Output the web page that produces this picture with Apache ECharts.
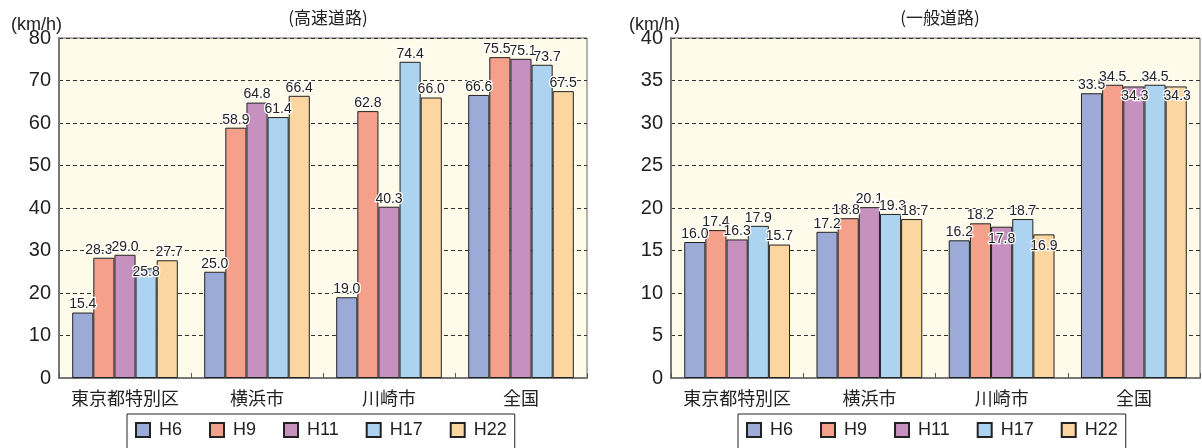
<!DOCTYPE html>
<html>
<head>
<meta charset="utf-8">
<script src="https://cdn.jsdelivr.net/npm/echarts@6/dist/echarts.min.js"></script>
<style>
html,body{margin:0;padding:0;background:#fff;}
#c{width:1202px;height:448px;}
</style>
</head>
<body>
<div id="c"></div>
<script>
// ---- data ----
const categories = ['東京都特別区', '横浜市', '川崎市', '全国'];
const seriesNames = ['H6', 'H9', 'H11', 'H17', 'H22'];
// 高速道路
const hwH6  = [15.4, 25.0, 19.0, 66.6];
const hwH9  = [28.3, 58.9, 62.8, 75.5];
const hwH11 = [29.0, 64.8, 40.3, 75.1];
const hwH17 = [25.8, 61.4, 74.4, 73.7];
const hwH22 = [27.7, 66.4, 66.0, 67.5];
// 一般道路
const gnH6  = [16.0, 17.2, 16.2, 33.5];
const gnH9  = [17.4, 18.8, 18.2, 34.5];
const gnH11 = [16.3, 20.1, 17.8, 34.3];
const gnH17 = [17.9, 19.3, 18.7, 34.5];
const gnH22 = [15.7, 18.7, 16.9, 34.3];
const hwTicks = [0, 80, 10];
const gnTicks = [0, 40, 5];

// ---- style ----
const colors = ['#9baad7', '#f4a08b', '#c690bf', '#acd4f0', '#fbd6a0'];
// label offsets: [chart, series, index, dx, dy]
const labelOffsets = [
  [0, 3, 0, 0, 12], [0, 1, 0, -5, 0], [0, 4, 0, 2, 0],
  [0, 1, 3, -3, 0], [0, 2, 3, 2, 0], [0, 3, 3, 5, 0],
  [1, 1, 1, -2, 0], [1, 3, 1, 2, 0], [1, 4, 1, 3, 0],
  [1, 2, 2, 0, 20], [1, 4, 2, 0, 20], [1, 2, 3, 1, 18], [1, 4, 3, 1, 18]
];
const numFont = '"Liberation Sans", Arial, sans-serif';
const jpFont = '"Noto Sans CJK JP", sans-serif';

const hw = [hwH6, hwH9, hwH11, hwH17, hwH22];
const gn = [gnH6, gnH9, gnH11, gnH17, gnH22];

function makeSeries(chartIdx, arrs) {
  return arrs.map((vals, si) => ({
    name: seriesNames[si],
    type: 'bar',
    xAxisIndex: chartIdx,
    yAxisIndex: chartIdx,
    barGap: '0%',
    barCategoryGap: '20%',
    itemStyle: { color: colors[si], borderColor: '#222', borderWidth: 1 },
    label: {
      show: true, position: 'top', distance: 1,
      formatter: p => p.value.toFixed(1),
      fontFamily: numFont, fontSize: 14, color: '#222',
      textBorderColor: '#fff', textBorderWidth: 2.5
    },
    data: vals.map((v, i) => {
      const hit = labelOffsets.find(a => a[0] === chartIdx && a[1] === si && a[2] === i);
      if (hit) return { value: v, label: { offset: [hit[3], hit[4]] } };
      return v;
    })
  }));
}

function yAxis(gi, t) {
  return {
    type: 'value', gridIndex: gi, min: t[0], max: t[1], interval: t[2],
    axisLine: { show: true, lineStyle: { color: '#777', width: 2 } },
    axisTick: { show: false },
    axisLabel: { fontFamily: numFont, fontSize: 20, color: '#222', margin: 8 },
    splitLine: { show: true, lineStyle: { color: '#333', type: [4, 3], width: 1 } }
  };
}
function xAxis(gi) {
  return {
    type: 'category', gridIndex: gi, data: categories,
    axisLine: { show: true, lineStyle: { color: '#777', width: 2 } },
    axisTick: { show: true, inside: true, length: 5, lineStyle: { color: '#555' } },
    axisLabel: { interval: 0, fontFamily: jpFont, fontSize: 18, color: '#222', margin: 11 }
  };
}
function legend(left) {
  return {
    data: seriesNames, left: left, top: 414, orient: 'horizontal',
    itemWidth: 14, itemHeight: 14, itemGap: 27,
    icon: 'rect',
    backgroundColor: '#fff', borderColor: '#222', borderWidth: 1,
    padding: [7, 8, 14, 8],
    textStyle: { fontFamily: numFont, fontSize: 18, color: '#222', padding: [0, 0, 0, 4] }
  };
}

const chart = echarts.init(document.getElementById('c'), null, { renderer: 'canvas' });
chart.setOption({
  animation: false,
  backgroundColor: '#fff',
  title: [
    { text: '(km/h)', left: 6, top: 11, textStyle: { fontFamily: numFont, fontSize: 18, fontWeight: 'normal', color: '#222' } },
    { text: '(高速道路)', left: 323, textAlign: 'center', top: 4, textStyle: { fontFamily: jpFont, fontSize: 17, fontWeight: 'normal', color: '#222' } },
    { text: '(km/h)', left: 624, top: 11, textStyle: { fontFamily: numFont, fontSize: 18, fontWeight: 'normal', color: '#222' } },
    { text: '(一般道路)', left: 935, textAlign: 'center', top: 4, textStyle: { fontFamily: jpFont, fontSize: 17, fontWeight: 'normal', color: '#222' } }
  ],
  legend: [legend(127), legend(738)],
  grid: [
    { left: 59, right: 1202 - 587, top: 38, bottom: 70, show: true, backgroundColor: '#fffbea', borderColor: '#666', borderWidth: 1 },
    { left: 671, right: 2, top: 38, bottom: 70, show: true, backgroundColor: '#fffbea', borderColor: '#666', borderWidth: 1 }
  ],
  xAxis: [xAxis(0), xAxis(1)],
  yAxis: [yAxis(0, hwTicks), yAxis(1, gnTicks)],
  series: [...makeSeries(0, hw), ...makeSeries(1, gn)]
});
</script>
</body>
</html>
